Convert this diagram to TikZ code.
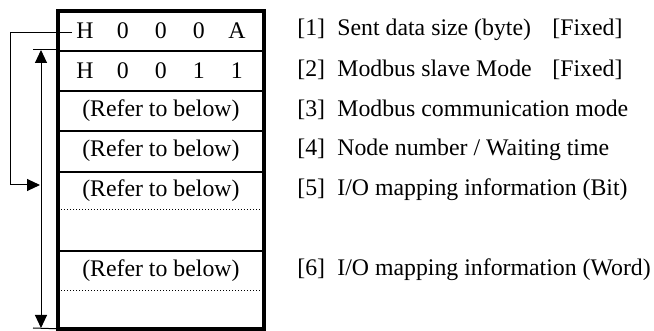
\documentclass[tikz,border=0pt]{standalone}
\usepackage{fontspec}
\setmainfont{Liberation Serif}
\usetikzlibrary{arrows.meta}
\begin{document}
\begin{tikzpicture}[x=0.5pt,y=-0.5pt,
  txt/.style={inner sep=0pt, font=\fontsize{11.9}{14}\selectfont},
  lbl/.style={txt, anchor=west},
  rowbox/.style={txt, minimum width=102.5pt, minimum height=#1, anchor=north west},
  outer/.style={line width=1.8pt},
  sep/.style={line width=1pt},
  dotsep/.style={line width=0.5pt, dash pattern=on 0.5pt off 1pt},
  conn/.style={line width=0.5pt},
  tip/.style={-{Triangle[length=6.5pt,width=6pt]}},
  dtip/.style={{Triangle[length=6.5pt,width=6pt]}-{Triangle[length=6.5pt,width=6pt]}}
]
\useasboundingbox (0,0) rectangle (654,331);
\newcommand{\cb}[1]{\makebox[19pt]{#1}}
% rows
\node[rowbox=19.5pt] (r1) at (58,11) {\cb{H}\cb{0}\cb{0}\cb{0}\cb{A}};
\node[rowbox=20pt] (r2) at (58,50) {\cb{H}\cb{0}\cb{0}\cb{1}\cb{1}};
\node[rowbox=20pt] (r3) at (58,90) {(Refer to below)};
\node[rowbox=20.5pt] (r4) at (58,130) {(Refer to below)};
\node[rowbox=19pt] (r5) at (58,171) {(Refer to below)};
\node[rowbox=20.5pt] (r5b) at (58,209) {};
\node[rowbox=20pt] (r6) at (58,250) {(Refer to below)};
\node[rowbox=19pt] (r6b) at (58,290) {};
% separators
\draw[sep] (r1.south west) -- (r1.south east);
\draw[sep] (r2.south west) -- (r2.south east);
\draw[sep] (r3.south west) -- (r3.south east);
\draw[sep] (r4.south west) -- (r4.south east);
\draw[dotsep] (r5.south west) -- (r5.south east);
\draw[sep] (r5b.south west) -- (r5b.south east);
\draw[dotsep] (r6.south west) -- (r6.south east);
% outer frame
\draw[outer] (r1.north west) rectangle (r6b.south east);
% loop arrow from row 1 to row 5
\coordinate (a0) at (72,33);
\coordinate (a1) at (10,33);
\coordinate (a2) at (10,185);
\coordinate (a3) at (40,185);
\draw[conn,tip] (a0) -- (a1) -- (a2) -- (a3);
% size arrow
\coordinate (t0) at (33,50);
\coordinate (t1) at (33,328);
\coordinate (v0) at (41,50);
\coordinate (v1) at (41,328);
\draw[conn] (t0) -- (r2.north west);
\draw[conn] (t1) -- (r6b.south west);
\draw[conn,dtip] (v0) -- (v1);
% labels
\node[lbl] (l1) at (297,30) {\makebox[20pt][l]{[1]}\makebox[107.5pt][l]{Sent data size (byte)}[Fixed]};
\node[lbl] (l2) at (297,70) {\makebox[20pt][l]{[2]}\makebox[107.5pt][l]{Modbus slave Mode}[Fixed]};
\node[lbl] (l3) at (297,110) {\makebox[20pt][l]{[3]}Modbus communication mode};
\node[lbl] (l4) at (297,150) {\makebox[20pt][l]{[4]}Node number / Waiting time};
\node[lbl] (l5) at (297,190) {\makebox[20pt][l]{[5]}I/O mapping information (Bit)};
\node[lbl] (l6) at (297,270) {\makebox[20pt][l]{[6]}I/O mapping information (Word)};
\end{tikzpicture}
\end{document}
